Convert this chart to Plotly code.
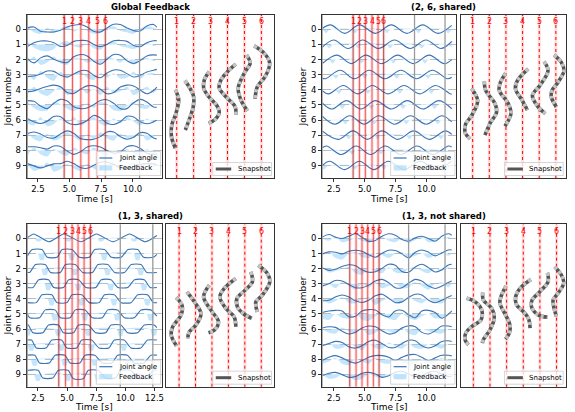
import plotly.graph_objects as go

# ---------------------------------------------------------------- data
JOINTS = [0, 1, 2, 3, 4, 5, 6, 7, 8, 9]
SNAP_IDS = [1, 2, 3, 4, 5, 6]
TITLES = ["Global Feedback", "(2, 6, shared)", "(1, 3, shared)", "(1, 3, not shared)"]

# ---- Panel A : Global Feedback (common time grid)
A_time = [1.66, 2.18, 2.71, 3.24, 3.76, 4.29, 4.82, 5.34, 5.87, 6.40, 6.92,
          7.45, 7.97, 8.50, 9.03, 9.55, 10.08, 10.61, 11.13, 11.66, 11.92]
A_angle = [
    [0.09, 0.15, -0.13, -0.18, -0.18, -0.07, 0.15, 0.26, 0.31, 0.15, -0.13, -0.18, 0.09, 0.33, 0.31, 0.09, -0.09, -0.11, 0.22, 0.31, 0.13],
    [-0.15, 0.11, 0.22, 0.22, 0.11, -0.13, -0.07, 0.20, 0.26, 0.24, 0.0, -0.15, 0.0, 0.24, 0.26, 0.20, -0.07, -0.15, 0.11, 0.24, 0.24],
    [0.07, -0.22, 0.11, 0.24, 0.02, -0.15, -0.20, 0.18, 0.33, 0.24, -0.11, -0.31, 0.02, 0.33, 0.29, -0.07, -0.26, -0.07, 0.24, 0.31, 0.29],
    [-0.13, -0.09, 0.04, 0.24, 0.22, -0.04, -0.15, 0.04, 0.26, 0.26, -0.04, -0.20, 0.11, 0.31, 0.29, 0.07, -0.15, -0.04, 0.18, 0.29, 0.35],
    [-0.13, -0.07, 0.09, 0.22, 0.31, 0.20, -0.18, -0.24, 0.04, 0.26, 0.26, 0.04, -0.26, -0.18, 0.18, 0.31, 0.26, -0.02, -0.26, -0.04, 0.18],
    [0.29, 0.24, -0.07, -0.24, 0.11, 0.37, 0.26, -0.11, -0.24, -0.20, 0.02, 0.29, 0.35, 0.11, -0.24, -0.24, 0.15, 0.37, 0.20, -0.13, -0.15],
    [0.11, -0.11, -0.22, -0.07, 0.24, 0.22, -0.15, -0.29, -0.24, -0.02, 0.31, 0.15, -0.20, -0.29, -0.11, 0.26, 0.20, -0.11, -0.24, -0.11, 0.0],
    [0.11, 0.22, 0.09, -0.15, -0.18, 0.09, 0.29, 0.13, -0.22, -0.29, -0.26, -0.09, 0.22, 0.22, -0.09, -0.26, -0.13, 0.18, 0.13, -0.18, -0.24],
    [0.24, 0.24, 0.18, 0.09, 0.29, 0.26, -0.04, -0.26, -0.09, 0.22, 0.31, 0.22, 0.0, -0.18, -0.09, 0.24, 0.31, 0.13, -0.18, -0.26, -0.22],
    [0.13, -0.02, -0.15, -0.02, 0.11, 0.13, 0.29, 0.13, -0.13, -0.18, 0.02, 0.22, 0.24, 0.07, -0.15, -0.20, -0.07, 0.09, 0.13, 0.11, 0.07],
]
A_feedback = [
    [0.25, -0.2, -0.3, 0.1, -0.25, 0.05, 0.2, -0.15, 0.05, -0.1, -0.3, -0.25, 0.05, 0.2, -0.1, -0.2, -0.3, 0.05, 0.2, 0.1, 0.0],
    [0.2, -0.2, -0.4, -0.45, -0.3, 0.1, 0.2, -0.1, -0.2, 0.05, -0.25, -0.35, 0.05, 0.2, -0.1, -0.2, -0.3, -0.1, 0.1, -0.1, 0.0],
    [-0.25, 0.2, -0.35, -0.2, 0.2, -0.25, -0.35, 0.1, 0.05, -0.2, -0.1, -0.3, 0.2, 0.05, -0.2, 0.1, -0.35, 0.05, 0.1, -0.1, 0.0],
    [0.2, -0.35, 0.25, -0.2, -0.4, 0.2, -0.25, 0.05, 0.2, -0.2, -0.35, 0.1, -0.2, 0.1, -0.25, -0.2, 0.2, -0.25, 0.05, 0.1, 0.0],
    [-0.35, 0.2, -0.25, -0.4, -0.1, 0.2, -0.35, -0.2, 0.1, -0.25, 0.05, -0.35, 0.2, -0.2, -0.1, 0.2, -0.35, -0.1, 0.2, -0.2, 0.0],
    [0.25, -0.2, -0.4, -0.35, 0.2, 0.05, -0.25, -0.4, -0.2, 0.1, -0.2, 0.2, 0.05, -0.35, -0.4, -0.1, 0.2, -0.2, -0.25, 0.05, 0.0],
    [-0.2, -0.35, 0.2, -0.4, -0.25, 0.1, -0.2, 0.2, -0.35, -0.1, 0.2, -0.25, -0.35, 0.1, -0.2, 0.2, -0.1, -0.35, 0.1, -0.2, 0.0],
    [0.2, -0.25, -0.4, 0.1, -0.35, -0.2, 0.2, -0.1, -0.35, 0.05, -0.25, 0.2, -0.2, -0.35, 0.1, -0.2, -0.1, 0.2, -0.35, -0.1, 0.0],
    [-0.35, 0.2, -0.25, -0.4, 0.1, -0.2, -0.35, 0.2, -0.1, -0.25, 0.2, -0.2, -0.35, 0.05, -0.25, 0.1, -0.2, -0.35, 0.1, -0.2, 0.0],
    [0.1, -0.35, -0.2, 0.2, -0.4, -0.25, 0.1, -0.2, -0.35, 0.1, -0.2, -0.35, 0.05, 0.2, -0.25, -0.1, 0.2, -0.25, -0.1, 0.0, 0.0],
]
A_snap_time = [4.58, 5.24, 5.90, 6.53, 7.21, 7.84]
A_marks = [1.66, 10.55]
A_snap_x = [
    [0.92, 1.12, 0.96, 0.71, 0.69, 0.92],
    [1.49, 1.75, 2.00, 1.98, 1.79, 1.51],
    [2.92, 2.63, 2.59, 2.92, 3.35, 3.51, 3.28, 2.88],
    [4.49, 4.00, 3.61, 3.51, 3.81, 4.10, 4.45, 4.49],
    [5.12, 5.34, 5.04, 4.79, 4.63, 4.79, 5.18],
    [5.57, 6.16, 6.49, 6.22, 5.76, 5.63],
]
A_snap_y = [
    [4.00, 4.67, 5.54, 6.32, 7.09, 7.85],
    [3.39, 3.83, 4.45, 5.11, 5.81, 6.65],
    [2.80, 3.35, 3.89, 4.49, 5.00, 5.50, 5.94, 6.20],
    [2.31, 2.80, 3.35, 3.89, 4.34, 4.67, 5.11, 5.66],
    [1.70, 2.24, 2.80, 3.35, 3.89, 4.67, 5.39],
    [1.10, 1.58, 2.24, 3.13, 3.79, 4.60],
]

# ---- Panel B : (2, 6, shared) -- extrema of each joint angle
B_time = [
    [1.56, 2.23, 3.39, 4.57, 5.86, 7.15, 8.41, 9.70, 10.91, 12.04],
    [1.56, 2.49, 3.65, 4.83, 6.12, 7.41, 8.67, 9.96, 11.17, 12.04],
    [1.56, 2.75, 3.91, 5.09, 6.38, 7.67, 8.93, 10.22, 11.43, 12.04],
    [1.56, 1.81, 3.01, 4.17, 5.35, 6.64, 7.93, 9.19, 10.48, 11.69, 12.04],
    [1.56, 2.07, 3.27, 4.43, 5.61, 6.90, 8.19, 9.45, 10.74, 11.95, 12.04],
    [1.56, 2.33, 3.53, 4.69, 5.87, 7.16, 8.45, 9.71, 11.00, 12.04],
    [1.56, 2.59, 3.79, 4.95, 6.13, 7.42, 8.71, 9.97, 11.26, 12.04],
    [1.56, 2.85, 4.05, 5.21, 6.39, 7.68, 8.97, 10.23, 11.52, 12.04],
    [1.56, 1.91, 3.11, 4.31, 5.47, 6.65, 7.94, 9.23, 10.49, 11.78, 12.04],
    [1.56, 2.17, 3.37, 4.57, 5.73, 6.91, 8.20, 9.49, 10.75, 12.04],
]
B_angle = [
    [0.05, 0.29, -0.27, 0.29, -0.27, 0.29, -0.27, 0.29, -0.27, 0.26],
    [-0.20, 0.29, -0.27, 0.29, -0.27, 0.29, -0.27, 0.29, -0.27, 0.19],
    [-0.27, 0.29, -0.27, 0.29, -0.27, 0.29, -0.27, 0.29, -0.27, 0.0],
    [-0.22, -0.27, 0.29, -0.27, 0.29, -0.27, 0.29, -0.27, 0.29, -0.27, -0.17],
    [-0.06, -0.27, 0.29, -0.27, 0.29, -0.27, 0.29, -0.27, 0.29, -0.27, -0.26],
    [0.13, -0.27, 0.29, -0.27, 0.29, -0.27, 0.29, -0.27, 0.29, -0.25],
    [0.26, -0.27, 0.29, -0.27, 0.29, -0.27, 0.29, -0.27, 0.29, -0.12],
    [0.28, -0.27, 0.29, -0.27, 0.29, -0.27, 0.29, -0.27, 0.29, 0.06],
    [0.17, 0.29, -0.27, 0.29, -0.27, 0.29, -0.27, 0.29, -0.27, 0.29, 0.22],
    [0.0, 0.29, -0.27, 0.29, -0.27, 0.29, -0.27, 0.29, -0.27, 0.29],
]
B_fb_time = [
    [1.56, 1.58, 1.88, 2.18, 3.92, 4.22, 4.52, 6.50, 6.80, 7.10, 9.05, 9.35, 9.65, 11.45, 11.75, 12.04],
    [1.56, 1.84, 2.14, 2.44, 4.18, 4.48, 4.78, 6.76, 7.06, 7.36, 9.31, 9.61, 9.91, 11.76, 12.04],
    [1.56, 2.10, 2.40, 2.70, 4.44, 4.74, 5.04, 7.02, 7.32, 7.62, 9.57, 9.87, 10.17, 12.04],
    [1.56, 2.36, 2.66, 2.96, 4.70, 5.00, 5.30, 7.28, 7.58, 7.88, 9.83, 10.13, 10.43, 12.04],
    [1.56, 2.62, 2.92, 3.22, 4.96, 5.26, 5.56, 7.54, 7.84, 8.14, 10.09, 10.39, 10.69, 12.04],
    [1.56, 2.88, 3.18, 3.48, 5.22, 5.52, 5.82, 7.80, 8.10, 8.40, 10.35, 10.65, 10.95, 12.04],
    [1.56, 3.14, 3.44, 3.74, 5.48, 5.78, 6.08, 8.06, 8.36, 8.66, 10.61, 10.91, 11.21, 12.04],
    [1.56, 3.40, 3.70, 4.00, 5.74, 6.04, 6.34, 8.32, 8.62, 8.92, 10.87, 11.17, 11.47, 12.04],
    [1.56, 3.66, 3.96, 4.26, 6.00, 6.30, 6.60, 8.58, 8.88, 9.18, 11.13, 11.43, 11.73, 12.04],
    [1.56, 1.72, 2.02, 3.92, 4.22, 4.52, 6.26, 6.56, 6.86, 8.84, 9.14, 9.44, 11.39, 11.69, 11.99, 12.04],
]
B_feedback = [
    [0, 0, -0.26, 0, 0, -0.26, 0, 0, -0.26, 0, 0, -0.26, 0, 0, -0.26, 0],
    [0, 0, -0.26, 0, 0, -0.26, 0, 0, -0.26, 0, 0, -0.26, 0, 0, -0.2],
    [0, 0, -0.26, 0, 0, -0.26, 0, 0, -0.26, 0, 0, -0.26, 0, 0],
    [0, 0, -0.26, 0, 0, -0.26, 0, 0, -0.26, 0, 0, -0.26, 0, 0],
    [0, 0, -0.26, 0, 0, -0.26, 0, 0, -0.26, 0, 0, -0.26, 0, 0],
    [0, 0, -0.26, 0, 0, -0.26, 0, 0, -0.26, 0, 0, -0.26, 0, 0],
    [0, 0, -0.26, 0, 0, -0.26, 0, 0, -0.26, 0, 0, -0.26, 0, 0],
    [0, 0, -0.26, 0, 0, -0.26, 0, 0, -0.26, 0, 0, -0.26, 0, 0],
    [0, 0, -0.26, 0, 0, -0.26, 0, 0, -0.26, 0, 0, -0.26, 0, 0],
    [-0.18, -0.26, 0, 0, -0.26, 0, 0, -0.26, 0, 0, -0.26, 0, 0, -0.26, 0, 0],
]
B_snap_time = [4.06, 4.57, 5.05, 5.59, 6.08, 6.53]
B_marks = [1.56, 9.03, 11.50]
B_snap_x = [
    [0.94, 1.30, 0.94, 0.58, 0.54, 0.84],
    [1.70, 1.78, 2.34, 2.44, 2.04, 1.74],
    [2.98, 2.64, 2.60, 3.14, 3.30, 2.94],
    [4.34, 3.69, 3.57, 3.98, 4.29],
    [5.29, 5.53, 5.04, 4.59, 4.93, 5.37],
    [5.89, 6.33, 6.49, 6.13, 5.77, 5.73, 6.03],
]
B_snap_y = [
    [3.91, 4.72, 5.70, 6.25, 6.80, 7.24],
    [3.45, 4.04, 4.91, 5.46, 6.22, 6.99],
    [2.91, 3.60, 4.04, 4.91, 5.57, 6.40],
    [2.62, 3.39, 3.93, 4.70, 5.35],
    [2.14, 2.73, 3.71, 4.37, 5.13, 5.57],
    [1.70, 2.19, 2.73, 3.50, 4.04, 4.48, 5.13],
]

# ---- Panel C : (1, 3, shared) -- corners of each joint angle
C_time = [
    [1.58, 2.15, 3.44, 4.72, 6.20, 7.51, 8.94, 10.36, 11.70, 12.70],
    [1.58, 2.01, 2.85, 3.30, 4.14, 4.58, 5.42, 6.06, 6.90, 7.37, 8.21, 8.80, 9.64, 10.22, 11.06, 11.56, 12.40, 12.70],
    [1.58, 1.80, 2.29, 3.13, 3.58, 4.42, 4.86, 5.70, 6.34, 7.18, 7.65, 8.49, 9.08, 9.92, 10.50, 11.34, 11.84, 12.70],
    [1.58, 2.08, 2.57, 3.41, 3.86, 4.70, 5.14, 5.98, 6.62, 7.46, 7.93, 8.77, 9.36, 10.20, 10.78, 11.62, 12.12, 12.70],
    [1.58, 2.36, 2.85, 3.69, 4.14, 4.98, 5.42, 6.26, 6.90, 7.74, 8.21, 9.05, 9.64, 10.48, 11.06, 11.90, 12.40, 12.70],
    [1.58, 1.80, 2.64, 3.13, 3.97, 4.42, 5.26, 5.70, 6.54, 7.18, 8.02, 8.49, 9.33, 9.92, 10.76, 11.34, 12.18, 12.70],
    [1.58, 1.68, 2.08, 2.92, 3.41, 4.25, 4.70, 5.54, 5.98, 6.82, 7.46, 8.30, 8.77, 9.61, 10.20, 11.04, 11.62, 12.46, 12.70],
    [1.58, 1.96, 2.36, 3.20, 3.69, 4.53, 4.98, 5.82, 6.26, 7.10, 7.74, 8.58, 9.05, 9.89, 10.48, 11.32, 11.90, 12.70],
    [1.58, 2.24, 2.64, 3.48, 3.97, 4.81, 5.26, 6.10, 6.54, 7.38, 8.02, 8.86, 9.33, 10.17, 10.76, 11.60, 12.18, 12.70],
    [1.58, 1.68, 2.52, 2.92, 3.76, 4.25, 5.09, 5.54, 6.38, 6.82, 7.66, 8.30, 9.14, 9.61, 10.45, 11.04, 11.88, 12.37, 12.70],
]
C_angle = [
    [0.05, 0.30, -0.22, 0.30, -0.22, 0.30, -0.22, 0.30, -0.22, 0.20],
    [-0.18, 0.27, 0.27, -0.25, -0.25, 0.27, 0.27, -0.25, -0.25, 0.27, 0.27, -0.25, -0.25, 0.27, 0.27, -0.25, -0.25, -0.05],
    [-0.25, -0.25, 0.27, 0.27, -0.25, -0.25, 0.27, 0.27, -0.25, -0.25, 0.27, 0.27, -0.25, -0.25, 0.27, 0.27, -0.25, -0.25],
    [-0.25, -0.25, 0.27, 0.27, -0.25, -0.25, 0.27, 0.27, -0.25, -0.25, 0.27, 0.27, -0.25, -0.25, 0.27, 0.27, -0.25, -0.25],
    [-0.25, -0.25, 0.27, 0.27, -0.25, -0.25, 0.27, 0.27, -0.25, -0.25, 0.27, 0.27, -0.25, -0.25, 0.27, 0.27, -0.25, -0.25],
    [0.0, -0.25, -0.25, 0.27, 0.27, -0.25, -0.25, 0.27, 0.27, -0.25, -0.25, 0.27, 0.27, -0.25, -0.25, 0.27, 0.27, -0.15],
    [0.27, 0.27, -0.25, -0.25, 0.27, 0.27, -0.25, -0.25, 0.27, 0.27, -0.25, -0.25, 0.27, 0.27, -0.25, -0.25, 0.27, 0.27, 0.10],
    [0.27, 0.27, -0.25, -0.25, 0.27, 0.27, -0.25, -0.25, 0.27, 0.27, -0.25, -0.25, 0.27, 0.27, -0.25, -0.25, 0.27, 0.27],
    [0.27, 0.27, -0.25, -0.25, 0.27, 0.27, -0.25, -0.25, 0.27, 0.27, -0.25, -0.25, 0.27, 0.27, -0.25, -0.25, 0.27, 0.27],
    [0.20, 0.27, 0.27, -0.25, -0.25, 0.27, 0.27, -0.30, -0.30, 0.27, 0.27, -0.25, -0.25, 0.27, 0.27, -0.25, -0.25, 0.27, 0.27],
]
C_fb_time = [
    [1.58, 2.20, 2.40, 2.70, 2.90, 4.77, 4.97, 5.27, 5.47, 7.56, 7.76, 8.06, 8.26, 10.41, 10.61, 10.91, 11.11, 12.70],
    [1.58, 2.48, 2.68, 2.98, 3.18, 5.05, 5.25, 5.55, 5.75, 7.84, 8.04, 8.34, 8.54, 10.69, 10.89, 11.19, 11.39, 12.70],
    [1.58, 2.76, 2.96, 3.26, 3.46, 5.33, 5.53, 5.83, 6.03, 8.12, 8.32, 8.62, 8.82, 10.97, 11.17, 11.47, 11.67, 12.70],
    [1.58, 3.04, 3.24, 3.54, 3.74, 5.61, 5.81, 6.11, 6.31, 8.40, 8.60, 8.90, 9.10, 11.25, 11.45, 11.75, 11.95, 12.70],
    [1.58, 3.32, 3.52, 3.82, 4.02, 5.89, 6.09, 6.39, 6.59, 8.68, 8.88, 9.18, 9.38, 11.53, 11.73, 12.03, 12.23, 12.70],
    [1.58, 1.73, 3.60, 3.80, 4.10, 4.30, 6.17, 6.37, 6.67, 6.87, 8.96, 9.16, 9.46, 9.66, 11.81, 12.01, 12.31, 12.51, 12.70],
    [1.58, 1.81, 2.01, 3.88, 4.08, 4.38, 4.58, 6.45, 6.65, 6.95, 7.15, 9.24, 9.44, 9.74, 9.94, 12.09, 12.29, 12.59, 12.70],
    [1.58, 1.59, 1.79, 2.09, 2.29, 4.16, 4.36, 4.66, 4.86, 6.73, 6.93, 7.23, 7.43, 9.52, 9.72, 10.02, 10.22, 12.70],
    [1.58, 1.87, 2.07, 2.37, 2.57, 4.44, 4.64, 4.94, 5.14, 7.01, 7.21, 7.51, 7.71, 9.80, 10.00, 10.30, 10.50, 12.70],
    [1.58, 2.15, 2.35, 2.65, 2.85, 4.72, 4.92, 5.22, 5.42, 7.29, 7.49, 7.79, 7.99, 10.08, 10.28, 10.58, 10.78, 12.70],
]
C_feedback = [
    [0, 0, -0.18, -0.18, 0, 0, -0.18, -0.18, 0, 0, -0.18, -0.18, 0, 0, -0.18, -0.18, 0, 0],
    [0, 0, -0.42, -0.42, 0, 0, -0.42, -0.42, 0, 0, -0.42, -0.42, 0, 0, -0.42, -0.42, 0, 0],
    [0, 0, -0.42, -0.42, 0, 0, -0.42, -0.42, 0, 0, -0.42, -0.42, 0, 0, -0.42, -0.42, 0, 0],
    [0, 0, -0.42, -0.42, 0, 0, -0.42, -0.42, 0, 0, -0.42, -0.42, 0, 0, -0.42, -0.42, 0, 0],
    [0, 0, -0.42, -0.42, 0, 0, -0.42, -0.42, 0, 0, -0.42, -0.42, 0, 0, -0.42, -0.42, 0, 0],
    [-0.3, 0, 0, -0.42, -0.42, 0, 0, -0.42, -0.42, 0, 0, -0.42, -0.42, 0, 0, -0.42, -0.42, 0, 0],
    [-0.42, -0.42, 0, 0, -0.42, -0.42, 0, 0, -0.42, -0.42, 0, 0, -0.42, -0.42, 0, 0, -0.42, -0.42, -0.2],
    [0, 0, -0.42, -0.42, 0, 0, -0.42, -0.42, 0, 0, -0.42, -0.42, 0, 0, -0.42, -0.42, 0, 0],
    [0, 0, -0.42, -0.42, 0, 0, -0.42, -0.42, 0, 0, -0.42, -0.42, 0, 0, -0.42, -0.42, 0, 0],
    [0, 0, -0.42, -0.42, 0, 0, -0.42, -0.42, 0, 0, -0.42, -0.42, 0, 0, -0.42, -0.42, 0, 0],
]
C_snap_time = [4.29, 4.86, 5.43, 5.94, 6.46, 7.00]
C_marks = [1.58, 9.56, 12.35]
C_snap_x = [
    [0.82, 1.18, 1.12, 0.61, 0.52, 0.85],
    [1.48, 1.93, 2.33, 2.03, 1.62, 1.52],
    [2.84, 2.49, 2.94, 3.40, 3.14, 2.79],
    [4.45, 3.75, 3.48, 3.85, 4.35, 4.45],
    [5.36, 5.46, 5.02, 4.52, 4.55, 4.90, 5.42],
    [5.82, 6.37, 6.52, 6.07, 5.67, 5.76],
]
C_snap_y = [
    [3.91, 4.42, 5.08, 5.85, 6.40, 7.13],
    [3.54, 4.20, 4.97, 5.74, 6.19, 6.62],
    [3.09, 3.87, 4.75, 5.52, 6.07, 6.25],
    [2.65, 3.31, 3.87, 4.64, 5.19, 5.85],
    [2.21, 2.87, 3.42, 3.97, 4.53, 4.97, 5.30],
    [1.77, 2.32, 2.87, 3.75, 4.20, 4.86],
]

# ---- Panel D : (1, 3, not shared) (common time grid)
D_time = [1.56, 2.10, 2.63, 3.17, 3.71, 4.25, 4.78, 5.32, 5.86, 6.40, 6.94,
          7.47, 8.01, 8.55, 9.09, 9.62, 10.16, 10.70, 11.24, 11.77, 12.04]
D_angle = [
    [0.09, 0.26, 0.09, 0.0, 0.15, 0.31, 0.09, -0.18, -0.13, 0.15, 0.31, 0.22, -0.07, -0.18, 0.04, 0.15, 0.0, -0.18, 0.15, 0.31, 0.22],
    [-0.02, 0.11, 0.09, -0.02, 0.15, 0.22, 0.15, -0.07, -0.24, 0.02, 0.22, 0.20, -0.02, -0.29, 0.09, 0.24, 0.09, -0.15, 0.04, 0.24, 0.24],
    [0.07, -0.11, -0.04, 0.15, 0.26, 0.20, -0.07, -0.24, -0.20, 0.02, 0.29, 0.22, -0.18, -0.24, 0.11, 0.29, 0.07, -0.22, -0.07, 0.24, 0.29],
    [-0.15, 0.0, 0.22, 0.18, -0.04, -0.26, -0.26, -0.09, 0.18, 0.29, 0.07, -0.26, -0.26, 0.04, 0.29, 0.18, -0.15, -0.31, -0.15, 0.09, 0.18],
    [-0.13, -0.09, 0.13, 0.26, 0.13, -0.13, -0.24, -0.09, 0.20, 0.31, 0.04, -0.24, -0.20, 0.09, 0.31, 0.26, -0.09, -0.26, -0.09, 0.13, 0.22],
    [0.09, 0.20, 0.24, 0.20, -0.18, -0.15, 0.20, 0.29, 0.26, -0.05, -0.20, 0.20, 0.24, -0.05, -0.25, 0.20, 0.24, 0.09, -0.28, -0.02, 0.20],
    [0.07, 0.15, 0.11, -0.15, -0.33, -0.22, 0.07, 0.20, 0.15, -0.11, -0.33, -0.24, 0.07, 0.22, 0.15, -0.22, -0.33, -0.11, 0.20, 0.20, 0.15],
    [-0.11, 0.04, 0.18, 0.11, -0.18, -0.26, -0.11, 0.18, 0.26, 0.04, -0.22, -0.22, 0.04, 0.26, 0.22, -0.11, -0.26, -0.11, 0.18, 0.22, 0.18],
    [-0.09, 0.13, 0.24, 0.09, -0.13, -0.26, -0.09, 0.13, 0.24, 0.24, 0.13, -0.09, 0.13, 0.29, 0.31, 0.13, -0.09, 0.09, 0.26, 0.26, 0.22],
    [-0.09, 0.07, 0.13, -0.02, -0.20, -0.15, 0.07, 0.13, 0.02, -0.20, -0.09, 0.13, 0.20, 0.02, -0.15, -0.09, 0.13, 0.20, 0.02, -0.15, -0.11],
]
D_feedback = [
    [0.0, -0.15, 0.1, -0.25, -0.15, 0.0, -0.15, -0.3, 0.0, 0.1, -0.15, -0.25, 0.0, -0.3, -0.1, 0.1, -0.25, -0.15, 0.0, 0.1, 0.0],
    [-0.15, 0.1, -0.3, -0.4, 0.0, 0.1, -0.25, -0.3, 0.0, -0.1, -0.3, 0.0, 0.1, -0.3, -0.15, 0.0, -0.3, -0.1, 0.1, -0.15, 0.0],
    [0.1, -0.25, -0.15, 0.0, 0.1, -0.3, -0.4, 0.0, -0.15, -0.3, 0.1, -0.25, -0.3, 0.0, 0.1, -0.15, -0.3, 0.0, -0.15, 0.1, 0.0],
    [-0.25, 0.0, -0.3, 0.1, -0.15, -0.4, 0.0, -0.25, 0.1, -0.3, -0.15, 0.0, -0.3, -0.25, 0.1, -0.15, -0.4, 0.0, 0.1, -0.25, 0.0],
    [0.0, -0.3, -0.15, 0.1, -0.25, -0.3, 0.0, 0.1, -0.4, -0.15, 0.0, -0.3, -0.25, 0.1, -0.15, -0.3, 0.0, -0.25, -0.3, 0.0, 0.0],
    [-0.3, -0.4, 0.0, -0.25, -0.3, 0.1, -0.4, -0.45, -0.15, 0.0, -0.3, -0.4, 0.0, -0.25, -0.4, -0.15, 0.0, -0.3, -0.25, 0.0, 0.0],
    [0.0, -0.25, -0.3, 0.1, -0.15, -0.3, 0.0, -0.4, -0.25, 0.0, -0.15, -0.3, 0.1, -0.3, -0.4, 0.0, -0.15, -0.25, -0.3, 0.0, 0.0],
    [-0.15, 0.1, -0.3, -0.25, 0.0, -0.15, -0.4, 0.0, -0.25, -0.3, 0.1, -0.15, -0.3, 0.0, -0.25, -0.3, 0.0, -0.15, -0.3, 0.0, 0.0],
    [-0.3, -0.15, 0.1, -0.3, -0.4, 0.0, -0.15, -0.3, 0.1, -0.25, -0.3, 0.0, -0.15, -0.4, -0.25, 0.0, -0.3, -0.15, 0.1, -0.3, 0.0],
    [0.0, -0.3, -0.25, 0.0, -0.15, -0.4, -0.3, 0.0, -0.15, -0.25, 0.0, -0.3, -0.4, 0.0, -0.15, -0.25, 0.0, -0.3, -0.15, 0.0, 0.0],
]
D_snap_time = [3.79, 4.30, 4.78, 5.24, 5.70, 6.16]
D_marks = [1.56, 8.55, 11.50]
D_snap_x = [
    [0.60, 1.10, 1.50, 1.46, 0.90, 0.54, 0.50, 0.70],
    [1.56, 1.60, 2.10, 2.26, 2.00, 1.60, 1.54],
    [2.96, 2.66, 2.60, 2.93, 3.20, 3.16, 2.93],
    [4.46, 3.80, 3.54, 3.60, 4.10, 4.34, 4.41],
    [5.45, 5.49, 5.00, 4.53, 4.49, 4.89, 5.45],
    [5.89, 6.29, 6.43, 6.09, 5.79, 5.85, 5.99],
]
D_snap_y = [
    [3.96, 4.18, 4.73, 5.39, 5.84, 6.27, 6.71, 7.04],
    [3.59, 4.07, 4.62, 5.28, 6.05, 6.71, 6.93],
    [3.15, 3.85, 4.29, 5.06, 5.72, 6.27, 6.67],
    [2.71, 3.30, 3.85, 4.40, 4.95, 5.39, 5.94],
    [2.27, 2.86, 3.52, 4.07, 4.51, 5.06, 5.21],
    [1.87, 2.42, 2.97, 3.63, 4.07, 4.62, 5.17],
]

# ---------------------------------------------------------------- layout geometry (pixels)
W, H = 575, 412
GEOM = [
    dict(lx=(26.7, 162.7), sx=(166.7, 275.0), py=(15.0, 178.0),
         xr=[1.605, 12.34], sxr=[0.376, 6.747], smooth=1.0),
    dict(lx=(323.3, 458.0), sx=(462.3, 567.7), py=(15.0, 178.0),
         xr=[1.556, 12.42], sxr=[0.281, 6.593], smooth=1.0),
    dict(lx=(26.7, 162.7), sx=(166.7, 275.0), py=(224.3, 386.7),
         xr=[1.53, 13.15], sxr=[0.212, 6.776], smooth=0.55),
    dict(lx=(323.3, 458.0), sx=(462.3, 567.7), py=(224.3, 386.7),
         xr=[1.556, 12.42], sxr=[0.24, 6.551], smooth=1.0),
]
PANELS = [
    dict(t=A_time, angle=A_angle, fbt=A_time, fb=A_feedback, fbs=0.8, snaps=A_snap_time, marks=A_marks, sx=A_snap_x, sy=A_snap_y),
    dict(t=B_time, angle=B_angle, fbt=B_fb_time, fb=B_feedback, fbs=0.6, snaps=B_snap_time, marks=B_marks, sx=B_snap_x, sy=B_snap_y),
    dict(t=C_time, angle=C_angle, fbt=C_fb_time, fb=C_feedback, fbs=0.6, snaps=C_snap_time, marks=C_marks, sx=C_snap_x, sy=C_snap_y),
    dict(t=D_time, angle=D_angle, fbt=D_time, fb=D_feedback, fbs=0.8, snaps=D_snap_time, marks=D_marks, sx=D_snap_x, sy=D_snap_y),
]
YR = [9.82, -0.94]

FONT = "DejaVu Sans"
LINE_BLUE = "#3a74b6"
FILL_BLUE = "rgba(135,206,250,0.5)"
AX_COL = "#333333"
SNAP_DARK = "#555555"


def fx(px):
    return px / W


def fy(py):
    return 1 - py / H


fig = go.Figure()
layout = dict(width=W, height=H, margin=dict(l=0, r=0, t=0, b=0), autosize=False,
              paper_bgcolor="white", plot_bgcolor="white", showlegend=False,
              font=dict(family=FONT, size=8.5, color="black"))
shapes, annots = [], []
legend_shapes, legend_annots = [], []


def ax_names(i):
    return ("x" if i == 1 else f"x{i}"), ("y" if i == 1 else f"y{i}")


for p, (P, G) in enumerate(zip(PANELS, GEOM)):
    li, si = 2 * p + 1, 2 * p + 2
    xl, yl = ax_names(li)
    xs, ys = ax_names(si)
    per_joint_t = isinstance(P["t"][0], list)
    per_joint_f = isinstance(P["fbt"][0], list)

    # feedback fills (area between the joint's base line and its feedback curve)
    for j in JOINTS:
        ft = P["fbt"][j] if per_joint_f else P["fbt"]
        fig.add_trace(go.Scatter(x=ft, y=[j] * len(ft), mode="lines", line=dict(width=0),
                                 hoverinfo="skip", xaxis=xl, yaxis=yl))
        fig.add_trace(go.Scatter(x=ft, y=[j - f for f in P["fb"][j]], mode="lines", fill="tonexty",
                                 fillcolor=FILL_BLUE, line=dict(width=0, shape="spline", smoothing=P["fbs"]),
                                 name="Feedback", xaxis=xl, yaxis=yl))
    # joint angles
    for j in JOINTS:
        tt = P["t"][j] if per_joint_t else P["t"]
        fig.add_trace(go.Scatter(x=tt, y=[j - v for v in P["angle"][j]], mode="lines",
                                 line=dict(color=LINE_BLUE, width=1.1, shape="spline", smoothing=G["smooth"]),
                                 name="Joint angle", xaxis=xl, yaxis=yl))
    # snapshots
    for k, (sx, sy) in enumerate(zip(P["sx"], P["sy"])):
        fig.add_trace(go.Scatter(x=sx, y=sy, mode="lines",
                                 line=dict(color=SNAP_DARK, width=3.6, shape="spline"),
                                 name="Snapshot", xaxis=xs, yaxis=ys))
        fig.add_trace(go.Scatter(x=sx, y=sy, mode="lines",
                                 line=dict(color="#c4c4c4", width=3.6, shape="spline", dash="3px,3px"),
                                 hoverinfo="skip", xaxis=xs, yaxis=ys))

    # vertical markers on time panel
    for m in P["marks"]:
        shapes.append(dict(type="line", xref=xl, yref=f"{yl} domain", x0=m, x1=m, y0=0, y1=1,
                           line=dict(color="#9a9a9a", width=1.3), layer="above"))
    for k, ts in enumerate(P["snaps"]):
        shapes.append(dict(type="line", xref=xl, yref=f"{yl} domain", x0=ts, x1=ts, y0=0, y1=1,
                           line=dict(color="rgba(255,0,0,0.16)", width=3), layer="above"))
        col = "rgba(130,20,20,0.85)" if k in (0, 5) else "rgba(235,20,20,0.8)"
        shapes.append(dict(type="line", xref=xl, yref=f"{yl} domain", x0=ts, x1=ts, y0=0, y1=1,
                           line=dict(color=col, width=0.8), layer="above"))
        annots.append(dict(x=ts, y=1, xref=xl, yref=f"{yl} domain", yanchor="top", yshift=-0.5,
                           text=str(SNAP_IDS[k]), showarrow=False, font=dict(color="red", size=8)))
    for k in SNAP_IDS:
        shapes.append(dict(type="line", xref=xs, yref=f"{ys} domain", x0=k, x1=k, y0=0, y1=1,
                           line=dict(color="rgba(255,0,0,0.13)", width=3), layer="below"))
        shapes.append(dict(type="line", xref=xs, yref=f"{ys} domain", x0=k, x1=k, y0=0, y1=1,
                           line=dict(color="red", width=1, dash="dot"), layer="below"))
        annots.append(dict(x=k, y=1, xref=xs, yref=f"{ys} domain", yanchor="top", yshift=-0.5,
                           text=str(k), showarrow=False, font=dict(color="red", size=8)))

    # title
    annots.append(dict(x=fx((G["lx"][0] + G["sx"][1]) / 2), y=fy(G["py"][0] - 8.0), xref="paper", yref="paper",
                       xanchor="center", yanchor="middle", showarrow=False,
                       text=f"<b>{TITLES[p]}</b>", font=dict(size=8.5, family=FONT)))

    # legends (drawn as boxes inside each axes, like matplotlib)
    R, B = G["lx"][1], G["py"][1]
    legend_shapes.append(dict(type="rect", xref="paper", yref="paper", x0=fx(R - 66), x1=fx(R - 1.5),
                              y0=fy(B - 2.5), y1=fy(B - 26.5), fillcolor="rgba(255,255,255,0.8)",
                              line=dict(color="#cccccc", width=0.8), layer="above"))
    legend_shapes.append(dict(type="line", xref="paper", yref="paper", x0=fx(R - 63), x1=fx(R - 50),
                              y0=fy(B - 20), y1=fy(B - 20), line=dict(color=LINE_BLUE, width=1.2), layer="above"))
    legend_shapes.append(dict(type="rect", xref="paper", yref="paper", x0=fx(R - 63), x1=fx(R - 50),
                              y0=fy(B - 7.5), y1=fy(B - 12.5), fillcolor=FILL_BLUE, line=dict(width=0), layer="above"))
    legend_annots.append(dict(x=fx(R - 45.5), y=fy(B - 20), xref="paper", yref="paper", xanchor="left",
                              yanchor="middle", text="Joint angle", showarrow=False, font=dict(size=7)))
    legend_annots.append(dict(x=fx(R - 45.5), y=fy(B - 10), xref="paper", yref="paper", xanchor="left",
                              yanchor="middle", text="Feedback", showarrow=False, font=dict(size=7)))
    R2 = G["sx"][1]
    legend_shapes.append(dict(type="rect", xref="paper", yref="paper", x0=fx(R2 - 61.5), x1=fx(R2 - 2.5),
                              y0=fy(B - 2.5), y1=fy(B - 15.5), fillcolor="rgba(255,255,255,0.8)",
                              line=dict(color="#cccccc", width=0.8), layer="above"))
    legend_shapes.append(dict(type="line", xref="paper", yref="paper", x0=fx(R2 - 58.5), x1=fx(R2 - 43),
                              y0=fy(B - 9), y1=fy(B - 9), line=dict(color=SNAP_DARK, width=3), layer="above"))
    legend_annots.append(dict(x=fx(R2 - 38.5), y=fy(B - 9), xref="paper", yref="paper", xanchor="left",
                              yanchor="middle", text="Snapshot", showarrow=False, font=dict(size=7)))

    axis_common = dict(showline=True, mirror=True, linecolor=AX_COL, linewidth=1, zeroline=False)
    ydom = [fy(G["py"][1]), fy(G["py"][0])]
    layout[f"xaxis{li}"] = dict(domain=[fx(G["lx"][0]), fx(G["lx"][1])], range=G["xr"], anchor=yl,
                                dtick=2.5, tick0=0, tickformat=".1f", ticks="outside", ticklen=3,
                                tickcolor=AX_COL, showgrid=False, tickfont=dict(size=8.5),
                                title=dict(text="Time [s]", font=dict(size=9), standoff=0), **axis_common)
    layout[f"yaxis{li}"] = dict(domain=ydom, range=YR, anchor=xl, tickvals=JOINTS, ticks="outside",
                                ticklen=3, tickcolor=AX_COL, showgrid=True, gridcolor="#bdbdbd",
                                griddash="dash", gridwidth=0.8, tickfont=dict(size=8.5),
                                title=dict(text="Joint number", font=dict(size=9), standoff=2), **axis_common)
    layout[f"xaxis{si}"] = dict(domain=[fx(G["sx"][0]), fx(G["sx"][1])], range=G["sxr"], anchor=ys,
                                showticklabels=False, ticks="", showgrid=False, **axis_common)
    layout[f"yaxis{si}"] = dict(domain=ydom, range=YR, anchor=xs, showticklabels=False,
                                ticks="", showgrid=False, **axis_common)

layout["xaxis"] = layout.pop("xaxis1")
layout["yaxis"] = layout.pop("yaxis1")
layout["shapes"] = shapes + legend_shapes
layout["annotations"] = annots + legend_annots
fig.update_layout(**layout)
fig.write_html("out.html")
